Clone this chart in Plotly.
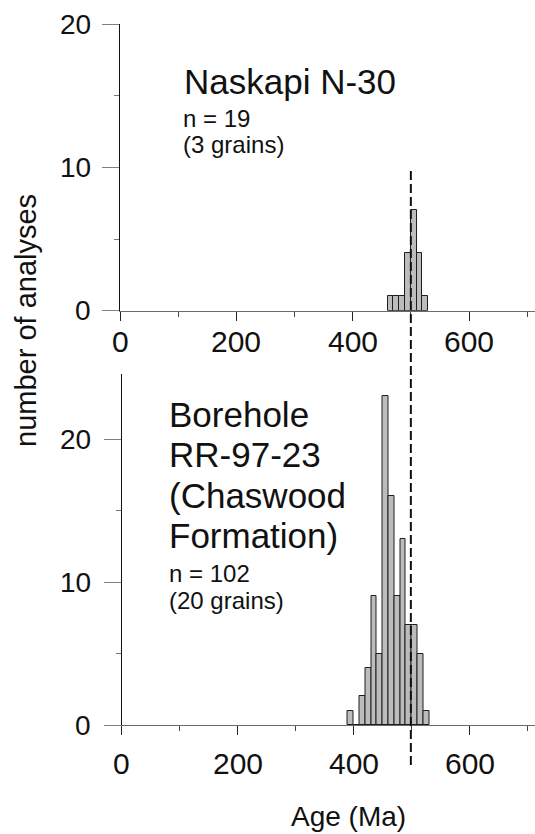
import plotly.graph_objects as go

# Age histograms (10 Ma bins): left edge of each bin and the number of analyses in it
naskapi_bin_start = [460, 470, 480, 490, 500, 510, 520]
naskapi_counts = [1, 1, 1, 4, 7, 4, 1]

borehole_bin_start = [390, 400, 410, 420, 430, 440, 450, 460, 470, 480, 490, 500, 510, 520]
borehole_counts = [1, 0, 2, 4, 9, 5, 23, 16, 9, 13, 7, 7, 5, 1]

bin_width = 10
reference_age = 500

x_tick_values = [0, 200, 400, 600]
x_tick_labels = ["0", "200", "400", "600"]
y_tick_values = [0, 10, 20]
y_tick_labels = ["0", "10", "20"]

W, H = 535, 834
FONT = "Liberation Sans, Arial, Helvetica, sans-serif"
INK = "#111"


def py(px):
    """Pixel row measured from the top -> paper y."""
    return 1 - px / H


def pxx(px):
    """Pixel column measured from the left -> paper x."""
    return px / W


fig = go.Figure()

bar_style = dict(
    marker=dict(color="#bcbcbc", line=dict(color="#1e1e1e", width=1)),
    width=bin_width,
    offset=0,
    showlegend=False,
    hoverinfo="x+y",
)
fig.add_trace(go.Bar(x=naskapi_bin_start, y=naskapi_counts, xaxis="x", yaxis="y", **bar_style))
fig.add_trace(go.Bar(x=borehole_bin_start, y=borehole_counts, xaxis="x2", yaxis="y2", **bar_style))

# panel geometry (pixels)
TOP_X0, BOT_X0 = 120, 121.5
TOP_BASE, TOP_20 = 310.7, 24
BOT_BASE, BOT_20, BOT_TOP = 725, 439, 374
px_per_ma_top = 0.5817
px_per_ma_bot = 0.5805
bot_px_per_count = (BOT_BASE - BOT_20) / 20

x_common = dict(
    tickmode="array",
    tickvals=x_tick_values,
    showticklabels=False,
    ticks="outside",
    ticklen=9,
    tickwidth=1,
    tickcolor="#222",
    minor=dict(ticks="outside", tickmode="linear", tick0=0, dtick=100, ticklen=5,
               tickwidth=1, tickcolor="#444"),
    showline=True,
    linecolor="#6a6a6a",
    linewidth=1,
    showgrid=False,
    zeroline=False,
)

y_common = dict(
    tickmode="array",
    tickvals=y_tick_values,
    showticklabels=False,
    ticks="outside",
    ticklen=17,
    tickwidth=1,
    tickcolor="#808080",
    minor=dict(ticks="outside", tickmode="linear", tick0=0, dtick=5, ticklen=5,
               tickwidth=1, tickcolor="#777"),
    showline=True,
    linecolor=INK,
    linewidth=1,
    showgrid=False,
    zeroline=False,
)

fig.update_layout(
    width=W,
    height=H,
    margin=dict(l=0, r=0, t=0, b=0),
    paper_bgcolor="white",
    plot_bgcolor="white",
    bargap=0,
    xaxis=dict(domain=[pxx(TOP_X0), 1], range=[0, (W - TOP_X0) / px_per_ma_top],
               anchor="y", **x_common),
    yaxis=dict(domain=[py(TOP_BASE), py(TOP_20)], range=[0, 20], anchor="x", **y_common),
    xaxis2=dict(domain=[pxx(BOT_X0), 1], range=[0, (W - BOT_X0) / px_per_ma_bot],
                anchor="y2", **x_common),
    yaxis2=dict(domain=[py(BOT_BASE), py(BOT_TOP)],
                range=[0, (BOT_BASE - BOT_TOP) / bot_px_per_count], anchor="x2", **y_common),
)

# Reference age marker running through both panels
fig.add_shape(
    type="line", xref="x", yref="paper",
    x0=reference_age, x1=reference_age, y0=py(765), y1=py(170),
    line=dict(color=INK, width=2, dash="9px,4px"),
)

# Tick labels
for xref, row in (("x", 341.7), ("x2", 763)):
    for v, t in zip(x_tick_values, x_tick_labels):
        fig.add_annotation(
            text=t, xref=xref, yref="paper", x=v, y=py(row),
            xanchor="center", yanchor="middle", showarrow=False,
            font=dict(family=FONT, size=30, color=INK),
        )

for yref in ("y", "y2"):
    for v, t in zip(y_tick_values, y_tick_labels):
        fig.add_annotation(
            text=t, xref="paper", yref=yref, x=pxx(93), y=v,
            xanchor="right", yanchor="middle", showarrow=False,
            font=dict(family=FONT, size=28, color=INK),
        )


def label(text, x_px, y_px, size):
    fig.add_annotation(
        text=text, xref="paper", yref="paper",
        x=pxx(x_px), y=py(y_px), xanchor="left", yanchor="middle",
        showarrow=False, font=dict(family=FONT, size=size, color=INK),
    )


label("Naskapi N-30", 181.5, 81.5, 35)
label("n = 19", 180.5, 118.7, 24)
label("(3 grains)", 180.5, 144.7, 24)

label("Borehole", 166.5, 414, 35)
label("RR-97-23", 166.5, 454.2, 35)
label("(Chaswood", 166.5, 495.9, 35)
label("Formation)", 166.5, 535, 35)
label("n = 102", 166.5, 573, 24)
label("(20 grains)", 166.5, 600.5, 24)

# Axis titles
fig.add_annotation(
    text="number of analyses", xref="paper", yref="paper",
    x=pxx(25.5), y=py(320.5), xanchor="center", yanchor="middle", textangle=-90,
    showarrow=False, font=dict(family=FONT, size=29, color=INK),
)
fig.add_annotation(
    text="Age (Ma)", xref="paper", yref="paper",
    x=pxx(348), y=py(816), xanchor="center", yanchor="middle",
    showarrow=False, font=dict(family=FONT, size=28, color=INK),
)

fig.write_html("out.html")
